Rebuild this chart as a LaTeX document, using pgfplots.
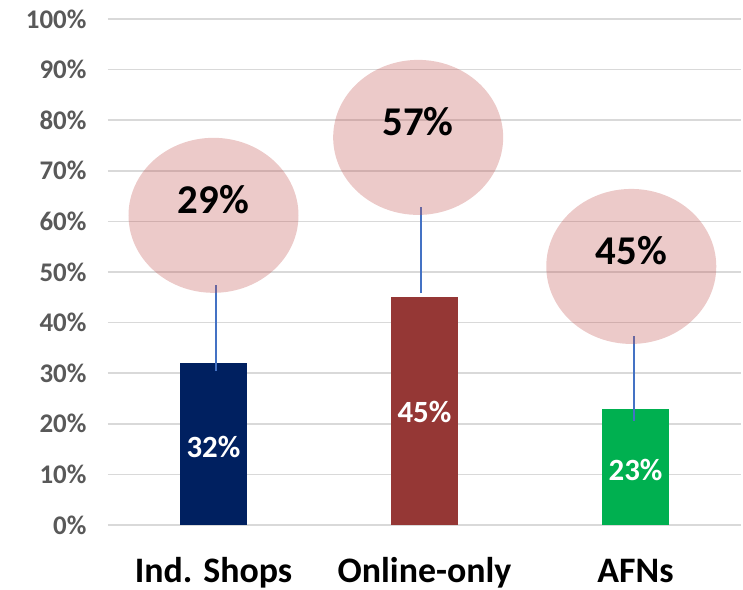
\documentclass[border=0pt]{standalone}
\usepackage{fontspec}
\setmainfont{Carlito}
\usepackage{pgfplots}
\pgfplotsset{compat=1.18}
\definecolor{gridc}{HTML}{D9D9D9}
\definecolor{tickc}{HTML}{595959}
\definecolor{bub}{HTML}{C0504D}
\definecolor{navyb}{HTML}{002060}
\definecolor{redb}{HTML}{953735}
\definecolor{greenb}{HTML}{00B050}
\definecolor{linec}{HTML}{4472C4}
\pgfdeclareplotmark{bubble}{\pgfpathellipse{\pgfpointorigin}{\pgfqpoint{85bp}{0bp}}{\pgfqpoint{0bp}{77.5bp}}\pgfusepathqfill}
\begin{document}
\begin{tikzpicture}
\begin{axis}[
  name=ax,
  scale only axis, width=633bp, height=506bp,
  xmin=-0.5, xmax=2.5, ymin=0, ymax=100,
  axis line style={draw=none},
  xtick={0,1,2}, xticklabels={Ind. Shops, Online-only, AFNs},
  ytick={0,10,...,100},
  yticklabels={0\%,10\%,20\%,30\%,40\%,50\%,60\%,70\%,80\%,90\%,100\%},
  major tick length=0pt,
  ymajorgrids, grid style={color=gridc, line width=1.5bp},
  yticklabel style={font=\fontsize{27}{30}\selectfont\bfseries, text=tickc, anchor=east, xshift=-18bp},
  xticklabel style={font=\fontsize{36}{40}\selectfont\bfseries, text=black, anchor=base, yshift=-57bp},
  clip=false,
]
% bubbles
\addplot[only marks, mark=bubble, mark options={fill=bub, fill opacity=0.3, draw=none}]
  coordinates {(0,61.2) (0.97,76.6) (1.98,51.1)};
% bubble labels
\addplot[draw=none, nodes near coords, point meta=explicit symbolic,
  every node near coord/.append style={anchor=center, yshift=16bp, font=\fontsize{41}{45}\selectfont\bfseries, text=black, opacity=1}]
  coordinates {(0,61.2) [29\%] (0.97,76.6) [57\%] (1.98,51.1) [45\%]};
% bars
\addplot[ybar, bar width=0.313, bar shift=0pt, fill=navyb, draw=none] coordinates {(0,32)};
\addplot[ybar, bar width=0.313, bar shift=0pt, fill=redb, draw=none] coordinates {(1,45)};
\addplot[ybar, bar width=0.313, bar shift=0pt, fill=greenb, draw=none] coordinates {(2,23)};
% connector lines
\addplot[color=linec, line width=1.2bp] coordinates {(0.012,30.4) (0.012,47.4)};
\addplot[color=linec, line width=1.2bp] coordinates {(0.983,45.8) (0.983,62.8)};
\addplot[color=linec, line width=1.2bp] coordinates {(1.993,20.6) (1.993,37.4)};
% bar labels
\addplot[draw=none, nodes near coords, point meta=explicit symbolic,
  every node near coord/.append style={anchor=center, font=\fontsize{31}{34}\selectfont\bfseries, text=white}]
  coordinates {(0,15.4) [32\%] (1,22.3) [45\%] (2,10.9) [23\%]};
\end{axis}
\pgfresetboundingbox
\path[use as bounding box] ([shift={(-108bp,-65bp)}]ax.south west) rectangle ([shift={(2bp,19bp)}]ax.north east);
\end{tikzpicture}
\end{document}
